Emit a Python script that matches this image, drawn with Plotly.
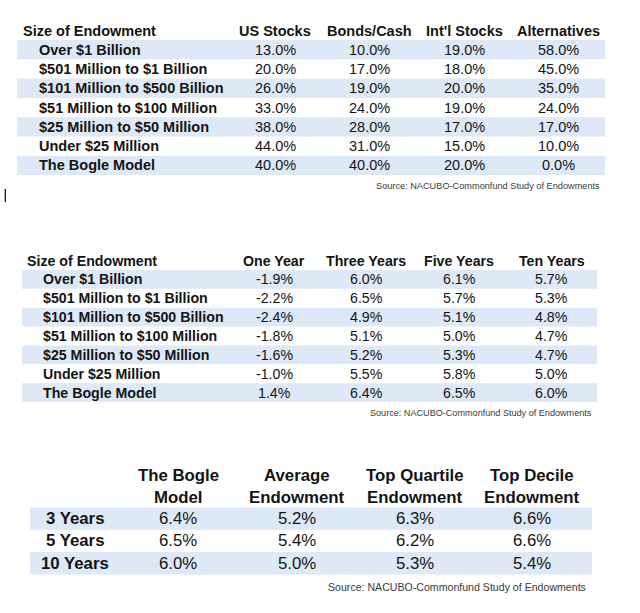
import plotly.graph_objects as go

# ---------------- Data ----------------
t1_header_label = "Size of Endowment"
t1_columns = ["US Stocks", "Bonds/Cash", "Int'l Stocks", "Alternatives"]
t1_rows = ["Over $1 Billion", "$501 Million to $1 Billion", "$101 Million to $500 Billion",
           "$51 Million to $100 Million", "$25 Million to $50 Million", "Under $25 Million",
           "The Bogle Model"]
t1_us_stocks = [13.0, 20.0, 26.0, 33.0, 38.0, 44.0, 40.0]
t1_bonds_cash = [10.0, 17.0, 19.0, 24.0, 28.0, 31.0, 40.0]
t1_intl_stocks = [19.0, 18.0, 20.0, 19.0, 17.0, 15.0, 20.0]
t1_alternatives = [58.0, 45.0, 35.0, 24.0, 17.0, 10.0, 0.0]

t2_header_label = "Size of Endowment"
t2_columns = ["One Year", "Three Years", "Five Years", "Ten Years"]
t2_rows = t1_rows
t2_one_year = [-1.9, -2.2, -2.4, -1.8, -1.6, -1.0, 1.4]
t2_three_years = [6.0, 6.5, 4.9, 5.1, 5.2, 5.5, 6.4]
t2_five_years = [6.1, 5.7, 5.1, 5.0, 5.3, 5.8, 6.5]
t2_ten_years = [5.7, 5.3, 4.8, 4.7, 4.7, 5.0, 6.0]

t3_columns_line1 = ["The Bogle", "Average", "Top Quartile", "Top Decile"]
t3_columns_line2 = ["Model", "Endowment", "Endowment", "Endowment"]
t3_rows = ["3 Years", "5 Years", "10 Years"]
t3_bogle = [6.4, 6.5, 6.0]
t3_average = [5.2, 5.4, 5.0]
t3_top_quartile = [6.3, 6.2, 5.3]
t3_top_decile = [6.6, 6.6, 5.4]

source_text = "Source: NACUBO-Commonfund Study of Endowments"

# ---------------- Styling ----------------
FONT = "Liberation Sans, Arial, Helvetica, sans-serif"
TXT = "#141414"
BAND = "#dde9f6"
SRC = "#3a3a3a"

annotations = []
shapes = []


def txt(x, y, s, size, bold=False, anchor="center", color=TXT):
    annotations.append(dict(
        x=x, y=y, xref="x", yref="y", text=("<b>%s</b>" % s) if bold else s,
        showarrow=False, xanchor=anchor, yanchor="middle",
        font=dict(family=FONT, size=size, color=color)))


def band(x0, x1, y0, y1):
    shapes.append(dict(type="rect", xref="x", yref="y", x0=x0, x1=x1, y0=y0, y1=y1,
                       fillcolor=BAND, line=dict(width=0), layer="below"))


def table(header_label, header_x, header_y, columns, col_x, rows, row_x, row_anchor,
          series, top, row_h, bx0, bx1, size, src_x, src_y, src_size, fmt, header_lines2=None):
    if header_label:
        txt(header_x, header_y, header_label, size, bold=True, anchor="left")
    for i, c in enumerate(columns):
        if header_lines2 is None:
            txt(col_x[i], header_y, c, size, bold=True)
        else:
            txt(col_x[i], header_y[0], c, size, bold=True)
            txt(col_x[i], header_y[1], header_lines2[i], size, bold=True)
    for r, name in enumerate(rows):
        y0 = top + r * row_h
        yc = y0 + row_h / 2
        if r % 2 == 0:
            band(bx0, bx1, y0, y0 + row_h)
        txt(row_x, yc, name, size, bold=True, anchor=row_anchor)
        for i, s in enumerate(series):
            txt(col_x[i], yc, fmt(s[r]), size)
    txt(src_x, src_y, source_text, src_size, anchor="right", color=SRC)


pct = lambda v: "%.1f%%" % v

# Table 1: asset allocation
table(t1_header_label, 21, 31, t1_columns, [275, 369, 464, 558], t1_rows, 37, "left",
      [t1_us_stocks, t1_bonds_cash, t1_intl_stocks, t1_alternatives],
      40, 19.3, 17, 605, 14.5, 602, 186, 9.2, pct)

# Table 2: returns
table(t2_header_label, 25, 261, t2_columns, [274, 366, 459, 551.5], t2_rows, 41, "left",
      [t2_one_year, t2_three_years, t2_five_years, t2_ten_years],
      270, 18.86, 22, 597, 14.2, 594, 413, 9.1, pct)

# Table 3: comparison
table(None, 0, [475, 497], t3_columns_line1, [178, 297, 415, 532], t3_rows, 75, "center",
      [t3_bogle, t3_average, t3_top_quartile, t3_top_decile],
      507.5, 22.3, 30, 592, 16.8, 588, 587, 10.6, pct, header_lines2=t3_columns_line2)

# text cursor artifact
shapes.append(dict(type="line", xref="x", yref="y", x0=5.3, x1=5.3, y0=189, y1=202,
                   line=dict(color="#000000", width=1.2)))

fig = go.Figure()
fig.update_layout(
    width=640, height=613, margin=dict(l=0, r=0, t=0, b=0),
    paper_bgcolor="white", plot_bgcolor="white",
    xaxis=dict(range=[0, 640], visible=False, fixedrange=True),
    yaxis=dict(range=[613, 0], visible=False, fixedrange=True),
    annotations=annotations, shapes=shapes, showlegend=False,
)

fig.write_html("out.html", config={"displayModeBar": False, "staticPlot": True},
               post_script="document.body.style.margin='0';document.body.style.overflow='hidden';")
